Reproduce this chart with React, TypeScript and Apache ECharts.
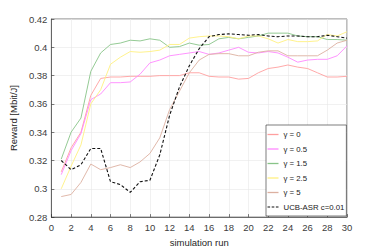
import React, { useEffect, useRef } from "react";
import * as echarts from "echarts";

const runs = Array.from({ length: 30 }, (_, i) => i + 1);
const xTicks = [0, 2, 4, 6, 8, 10, 12, 14, 16, 18, 20, 22, 24, 26, 28, 30];

const gamma0 = [0.312, 0.329, 0.340, 0.366, 0.378, 0.379, 0.379, 0.3795, 0.3795, 0.3795, 0.380, 0.380, 0.380, 0.382, 0.382, 0.3795, 0.379, 0.379, 0.3775, 0.378, 0.382, 0.385, 0.386, 0.3875, 0.386, 0.385, 0.382, 0.379, 0.379, 0.3795];
const gamma05 = [0.310, 0.327, 0.339, 0.363, 0.367, 0.375, 0.375, 0.3755, 0.381, 0.389, 0.391, 0.394, 0.395, 0.396, 0.397, 0.395, 0.396, 0.398, 0.400, 0.3965, 0.396, 0.397, 0.396, 0.393, 0.3895, 0.391, 0.3915, 0.3915, 0.394, 0.401];
const gamma15 = [0.321, 0.340, 0.350, 0.383, 0.396, 0.402, 0.403, 0.405, 0.4045, 0.406, 0.405, 0.400, 0.4005, 0.403, 0.4015, 0.402, 0.406, 0.407, 0.406, 0.407, 0.408, 0.410, 0.410, 0.410, 0.408, 0.4075, 0.4075, 0.4055, 0.4055, 0.405];
const gamma25 = [0.300, 0.316, 0.331, 0.360, 0.370, 0.388, 0.393, 0.397, 0.3965, 0.397, 0.398, 0.402, 0.402, 0.4065, 0.4075, 0.408, 0.408, 0.4075, 0.406, 0.408, 0.408, 0.406, 0.403, 0.4055, 0.404, 0.404, 0.4045, 0.409, 0.408, 0.411];
const gamma5 = [0.2945, 0.296, 0.3045, 0.3175, 0.3135, 0.315, 0.317, 0.315, 0.319, 0.325, 0.336, 0.356, 0.369, 0.382, 0.391, 0.395, 0.3955, 0.3955, 0.394, 0.394, 0.3965, 0.3975, 0.3975, 0.394, 0.394, 0.394, 0.394, 0.398, 0.403, 0.405];
const ucb = [0.320, 0.3135, 0.317, 0.3285, 0.3285, 0.305, 0.303, 0.2975, 0.305, 0.306, 0.324, 0.352, 0.372, 0.387, 0.399, 0.4075, 0.409, 0.4095, 0.409, 0.4085, 0.409, 0.408, 0.4075, 0.408, 0.408, 0.4075, 0.4075, 0.4085, 0.4075, 0.4065];

const seriesNames = ["γ = 0", "γ = 0.5", "γ = 1.5", "γ = 2.5", "γ = 5", "UCB-ASR c=0.01"];
const seriesData = [gamma0, gamma05, gamma15, gamma25, gamma5, ucb];
const seriesColors = ["#ff9f9f", "#ff88ff", "#88c488", "#fff080", "#dcb0a0", "#111111"];

const solidIcon = "path://M0,0 L11,0 L11,1.3 L0,1.3 Z";
const dashIcon = "path://M0,0 L2.5,0 L2.5,1 L0,1 Z M4,0 L6.5,0 L6.5,1 L4,1 Z M8,0 L10.5,0 L10.5,1 L8,1 Z";

export default function App() {
  const ref = useRef<HTMLDivElement>(null);
  useEffect(() => {
    if (!ref.current) return;
    const chart = echarts.init(ref.current, undefined, { renderer: "svg" });
    const font = "'Liberation Sans', Arial, sans-serif";
    chart.setOption({
      animation: false,
      backgroundColor: "#ffffff",
      textStyle: { fontFamily: font },
      grid: {
        left: 50,
        right: 36,
        top: 19,
        bottom: 28,
        show: true,
        borderColor: "#262626",
        borderWidth: 0.6,
      },
      legend: {
        orient: "vertical",
        left: 266,
        top: 125,
        padding: [5.5, 2, 5, 1.5],
        itemGap: 6.5,
        itemWidth: 11,
        itemHeight: 9,
        borderColor: "#262626",
        borderWidth: 0.6,
        borderRadius: 0,
        backgroundColor: "#ffffff",
        textStyle: { fontSize: 7.8, color: "#222", fontFamily: font },
        data: seriesNames.map((n, i) => ({ name: n, icon: i === 5 ? dashIcon : solidIcon })),
      },
      xAxis: {
        type: "value",
        min: 0,
        max: 30,
        interval: 2,
        name: "simulation run",
        nameLocation: "middle",
        nameGap: 17,
        nameTextStyle: { fontSize: 9.5, color: "#262626" },
        axisLine: { lineStyle: { color: "#262626", width: 0.6 } },
        axisTick: { inside: true, length: 3, lineStyle: { color: "#262626", width: 0.6 } },
        axisLabel: { fontSize: 9.5, color: "#404040", margin: 5, formatter: (v: number) => (xTicks.includes(v) ? String(v) : "") },
        splitLine: { show: true, lineStyle: { color: "#e8e8e8", width: 0.6 } },
      },
      yAxis: {
        type: "value",
        min: 0.28,
        max: 0.42,
        interval: 0.02,
        name: "Reward [Mbit/J]",
        nameLocation: "middle",
        nameGap: 24,
        nameTextStyle: { fontSize: 9.5, color: "#262626" },
        axisLine: { show: true, lineStyle: { color: "#262626", width: 0.6 } },
        axisTick: { show: true, inside: true, length: 3, lineStyle: { color: "#262626", width: 0.6 } },
        axisLabel: {
          fontSize: 9.5,
          color: "#404040",
          margin: 4,
          formatter: (v: number) => {
            const s = v.toFixed(2);
            return s.endsWith("0") ? v.toFixed(1) : s;
          },
        },
        splitLine: { show: true, lineStyle: { color: "#e8e8e8", width: 0.6 } },
      },
      series: seriesNames.map((name, i) => ({
        name,
        type: "line",
        data: runs.map((r, j) => [r, seriesData[i][j]]),
        showSymbol: false,
        symbol: "none",
        color: seriesColors[i],
        lineStyle: {
          color: seriesColors[i],
          width: i === 5 ? 1.1 : 0.9,
          type: i === 5 ? [3, 2] : "solid",
        },
        z: i === 5 ? 5 : 2,
      })),
    });
    return () => chart.dispose();
  }, []);
  return <div ref={ref} style={{ width: 383, height: 252, position: "absolute", left: 0, top: 0 }} />;
}
